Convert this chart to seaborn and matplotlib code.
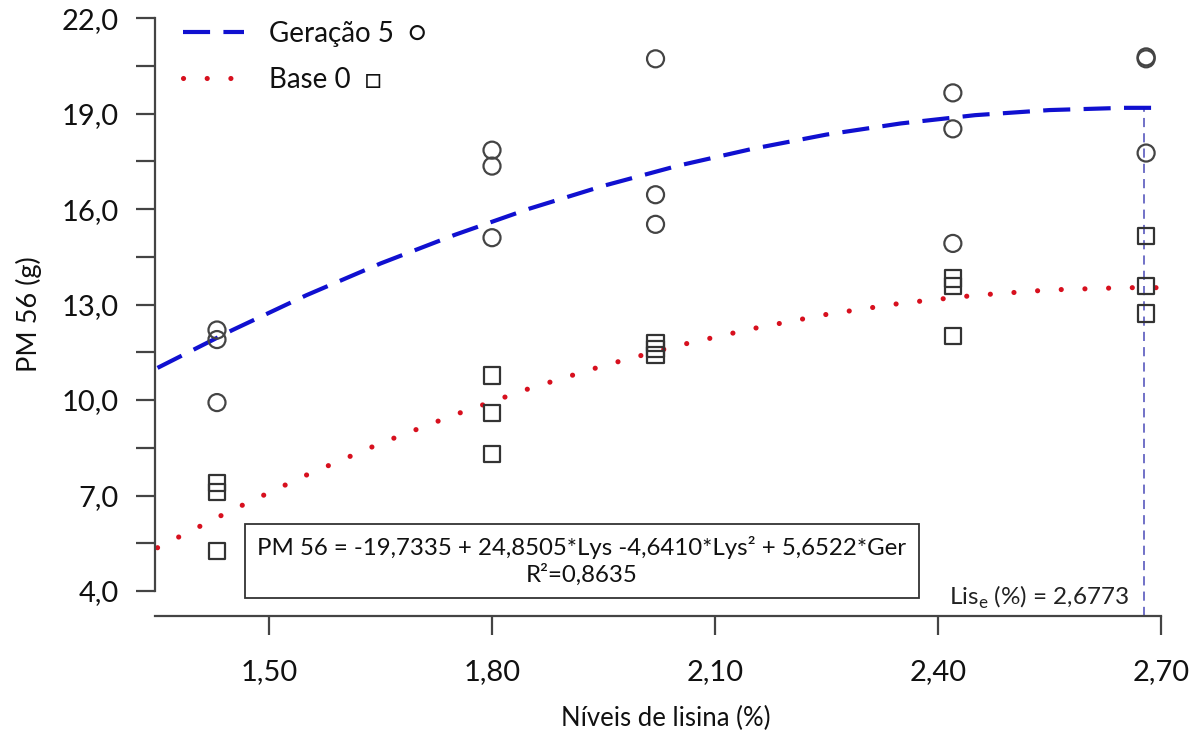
import numpy as np
import pandas as pd
import matplotlib
matplotlib.use("Agg")
import matplotlib.pyplot as plt
import seaborn as sns
from matplotlib.lines import Line2D

# ---------------- data ----------------
# observed points, Geração 5 (circles)
ger_x = [1.43, 1.43, 1.43, 1.80, 1.80, 1.80, 2.02, 2.02, 2.02, 2.42, 2.42, 2.42, 2.68, 2.68, 2.68]
ger_y = [12.20, 11.90, 9.92, 17.85, 17.35, 15.10, 20.72, 16.45, 15.52, 19.65, 18.52, 14.92, 20.78, 20.72, 17.76]
# observed points, Base 0 (squares)
base_x = [1.43, 1.43, 1.43, 1.80, 1.80, 1.80, 2.02, 2.02, 2.02, 2.42, 2.42, 2.42, 2.68, 2.68, 2.68]
base_y = [7.40, 7.10, 5.25, 10.77, 9.60, 8.30, 11.80, 11.60, 11.42, 13.82, 13.58, 12.02, 15.14, 13.58, 12.72]

# fitted curves
curve_x = [1.35, 1.45, 1.55, 1.65, 1.75, 1.85, 1.95, 2.05, 2.15, 2.25, 2.35, 2.45, 2.55, 2.65, 2.70]
curve_ger = [11.01, 12.19, 13.29, 14.29, 15.19, 16.01, 16.73, 17.36, 17.89, 18.34, 18.69, 18.95, 19.11, 19.18, 19.18]
curve_base = [5.36, 6.54, 7.64, 8.64, 9.54, 10.36, 11.08, 11.71, 12.24, 12.69, 13.04, 13.29, 13.46, 13.53, 13.53]

lis_e = 2.6773
lis_e_y = 19.18

x_ticks = [1.50, 1.80, 2.10, 2.40, 2.70]
x_labels = ["1,50", "1,80", "2,10", "2,40", "2,70"]
y_ticks = [4.0, 5.5, 7.0, 8.5, 10.0, 11.5, 13.0, 14.5, 16.0, 17.5, 19.0, 20.5, 22.0]
y_labels = ["4,0", "", "7,0", "", "10,0", "", "13,0", "", "16,0", "", "19,0", "", "22,0"]

eq_text = "PM 56 = -19,7335 + 24,8505*Lys -4,6410*Lys² + 5,6522*Ger\nR²=0,8635"
lis_text = r"Lis$_\mathregular{e}$ (%) = 2,6773"
legend_labels = ["Geração 5  \u25cb", "Base 0  \u25a1"]

# ---------------- style ----------------
sns.set_style("white")
plt.rcParams['font.family'] = ['Lato', 'DejaVu Sans']
plt.rcParams['mathtext.fontset'] = 'custom'
plt.rcParams['mathtext.rm'] = 'Lato'

fig = plt.figure(figsize=(12, 7.38), dpi=100)
W, H = 1200, 738
x0, x1 = 1.3466, 2.72
y0, y1 = 3.215, 22.2
pxx = 743.3
pxy = 31.83
left_px = 155
bottom_px = 616
ax = fig.add_axes([left_px / W, (H - bottom_px) / H,
                   (x1 - x0) * pxx / W, (y1 - y0) * pxy / H])

curve_df = pd.DataFrame({"x": curve_x, "ger": curve_ger, "base": curve_base})
ger_df = pd.DataFrame({"x": ger_x, "y": ger_y})
base_df = pd.DataFrame({"x": base_x, "y": base_y})

blue = "#1010d0"
red = "#d7101e"
blue_ls = (0, (6.5, 3.2))
red_ls = (0, (0.01, 4.6))

# vertical line at Lis_e
ax.plot([lis_e, lis_e], [y0, lis_e_y], color="#4a4ab8", lw=1.1,
        linestyle=(0, (6, 4)), zorder=1)

sns.lineplot(data=curve_df, x="x", y="ger", ax=ax, color=blue, lw=3.0,
             linestyle=blue_ls, zorder=2, estimator=None, sort=False)
l2 = ax.plot(curve_df["x"], curve_df["base"], color=red, lw=3.7,
             linestyle=red_ls, zorder=2)[0]
l2.set_dash_capstyle("round")

sns.scatterplot(data=ger_df, x="x", y="y", ax=ax, marker="o", s=150,
                facecolor="none", edgecolor="#444444", linewidth=1.6, zorder=3)
sns.scatterplot(data=base_df, x="x", y="y", ax=ax, marker="s", s=135,
                facecolor="none", edgecolor="#333333", linewidth=1.6, zorder=3)

ax.set_xlim(x0, x1)
ax.set_ylim(y0, y1)
for s in ["top", "right"]:
    ax.spines[s].set_visible(False)
for s in ["left", "bottom"]:
    ax.spines[s].set_color("#444444")
    ax.spines[s].set_linewidth(1.6)
ax.spines["left"].set_bounds(4.0, 22.0)
ax.spines["bottom"].set_bounds(x0, 2.70)

ax.set_xticks(x_ticks)
ax.set_xticklabels(x_labels)
ax.set_yticks(y_ticks)
ax.set_yticklabels(y_labels)
ax.tick_params(axis="both", direction="out", length=14, width=1.6, color="#444444",
               labelsize=21, labelcolor="#111111", left=True, bottom=True)
ax.tick_params(axis="y", pad=12)
ax.tick_params(axis="x", pad=17)

ax.set_xlabel("Níveis de lisina (%)", fontsize=18.5, color="#111111", labelpad=15)
ax.set_ylabel("PM 56 (g)", fontsize=19.5, color="#111111", labelpad=14)

# equation box
ax.text(1.921, 4.95, eq_text, ha="center", va="center", fontsize=17.3,
        color="#111111", linespacing=1.25,
        bbox=dict(boxstyle="square,pad=0.5", facecolor="white",
                  edgecolor="#333333", linewidth=1.3), zorder=4)
ax.text(2.658, 3.80, lis_text, ha="right", va="center", fontsize=17.5, color="#222222")

# legend
handles = [Line2D([0], [0], color=blue, lw=3.0, linestyle=blue_ls),
           Line2D([0], [0], color=red, lw=3.7, linestyle=red_ls,
                  dash_capstyle="round")]
leg = ax.legend(handles, legend_labels, loc="upper left",
                bbox_to_anchor=(0.0274, 0.985), borderaxespad=0, borderpad=0,
                frameon=False, fontsize=20, handlelength=2.2, handletextpad=0.9,
                labelspacing=0.72)
for t in leg.get_texts():
    t.set_color("#111111")

fig.savefig("out.png", dpi=100)
